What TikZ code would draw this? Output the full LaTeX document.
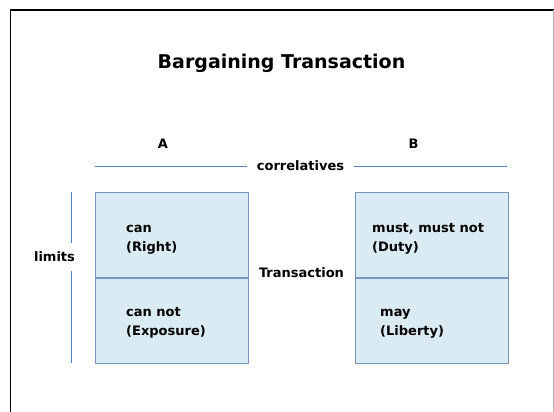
\documentclass[tikz,border=0pt]{standalone}
\usepackage{fontspec}
\setmainfont{DejaVu Sans}
\usetikzlibrary{positioning}
\definecolor{cellfill}{RGB}{219,235,243}
\definecolor{celledge}{RGB}{120,148,186}
\definecolor{rulecol}{RGB}{84,130,190}

\begin{document}
\begin{tikzpicture}[x=1pt,y=-1pt,
	label/.style={font=\bfseries\fontsize{13}{19}\selectfont, inner sep=0pt},
	cell/.style={draw=celledge, fill=cellfill, line width=1.2pt, minimum width=153pt, minimum height=85pt, inner sep=0pt},
	celltext/.style={label, align=left, anchor=base west},
	rule/.style={draw=rulecol, line width=0.8pt}]
	\useasboundingbox (0,0) rectangle (554,412);
	% frame
	\draw[line width=1.6pt] (10.5,412) -- (10.5,10) -- (554,10);
	\draw[gray!55, line width=1pt] (553,10) -- (553,412);
	\node[font=\bfseries\fontsize{19}{23}\selectfont, anchor=base, inner sep=0pt] (title) at (281.5,68) {Bargaining Transaction};
	% the two parties
	\node[label, anchor=base] (partyA) at (163,148) {A};
	\node[label, anchor=base] (partyB) at (413.5,148) {B};
	\coordinate (corrL) at (95,166.7);
	\coordinate (corrR) at (507,166.7);
	\node[label, anchor=base, inner xsep=9.5pt] (corr) at (300.5,170.7) {correlatives};
	\draw[rule] (corrL) -- (corrL -| corr.west);
	\draw[rule] (corr.east |- corrR) -- (corrR);
	% cells (base of a two-line node is its last line)
	\node[cell, anchor=north west] (canA) at (95,192) {};
	\node[cell, below=0pt of canA] (cannotA) {};
	\node[cell, anchor=north west] (mustB) at (355,192) {};
	\node[cell, below=0pt of mustB] (mayB) {};
	\node[celltext] (canT) at (126,251.7) {can\\(Right)};
	\node[celltext] (cannotT) at (126,335.7) {can not\\(Exposure)};
	\node[celltext] (mustT) at (372,251.7) {must, must not\\(Duty)};
	\node[celltext] (mayT) at (380,335.7) {may\\(Liberty)};
	\node[label, anchor=base] (trans) at (301.5,277) {Transaction};
	% limits
	\coordinate (limTop) at (71.5,192);
	\coordinate (limBot) at (71.5,362.5);
	\node[label, anchor=base, inner ysep=9pt] (limits) at (54.5,261.7) {limits};
	\draw[rule] (limTop) -- (limTop |- limits.north);
	\draw[rule] (limBot |- limits.south) -- (limBot);
\end{tikzpicture}
\end{document}
